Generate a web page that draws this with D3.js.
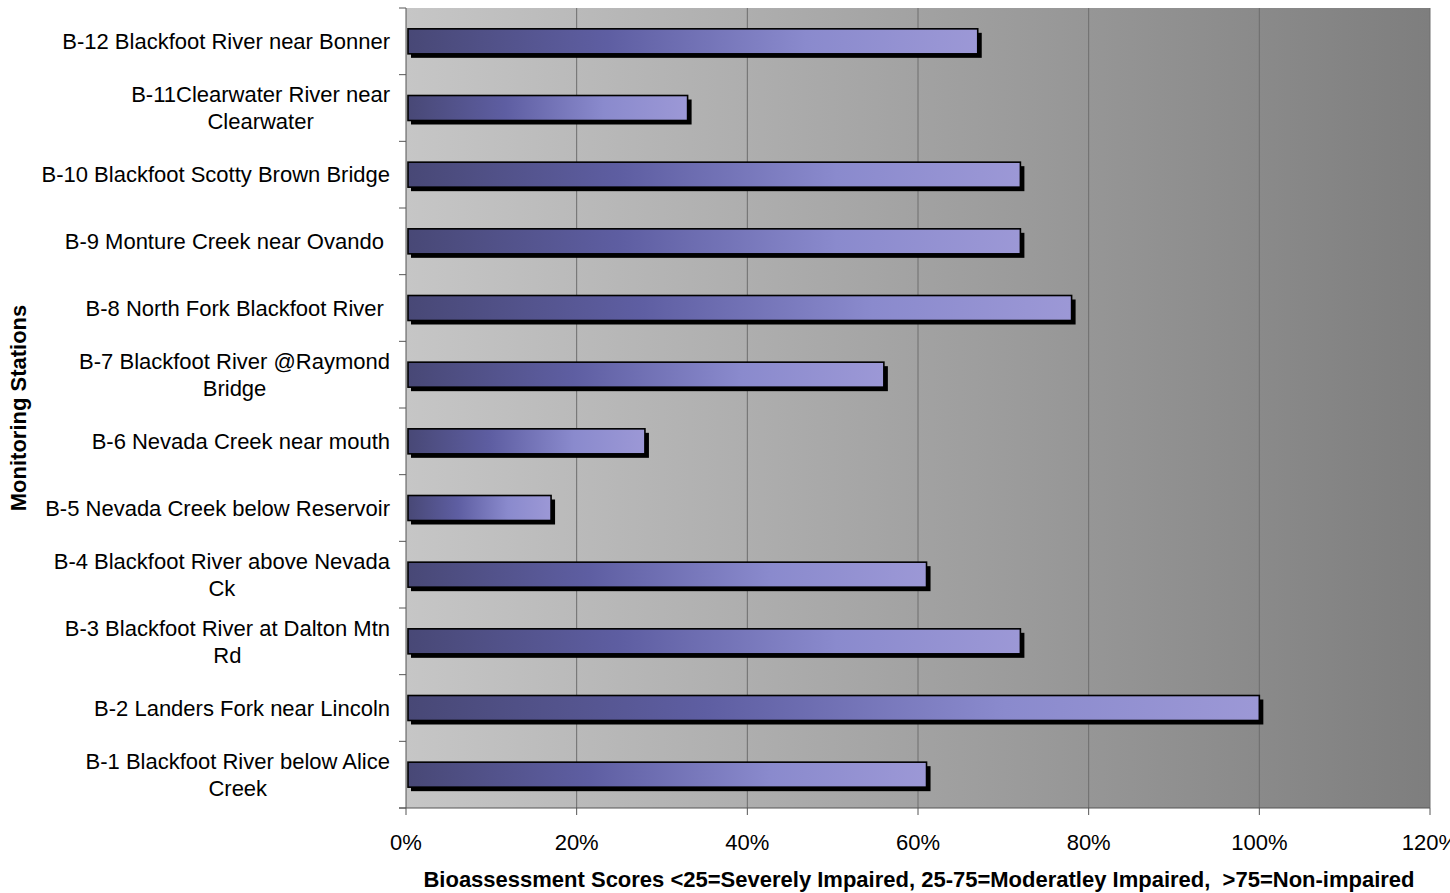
<!DOCTYPE html>
<html>
<head>
<meta charset="utf-8">
<script src="https://cdn.jsdelivr.net/npm/d3@7"></script>
<style>
  html, body { margin: 0; padding: 0; background: #fff; }
  svg { display: block; }
  text { font-family: "Liberation Sans", Arial, sans-serif; fill: #000; }
</style>
</head>
<body>
<svg id="chart" width="1450" height="893"></svg>
<script>
// Monitoring stations, top to bottom; each entry lists its wrapped label lines
const stations = ["B-12", "B-11", "B-10", "B-9", "B-8", "B-7", "B-6", "B-5", "B-4", "B-3", "B-2", "B-1"];
const stationLabels = [
  ["B-12 Blackfoot River near Bonner"],
  ["B-11Clearwater River near", "Clearwater"],
  ["B-10 Blackfoot Scotty Brown Bridge"],
  ["B-9 Monture Creek near Ovando "],
  ["B-8 North Fork Blackfoot River "],
  ["B-7 Blackfoot River @Raymond", "Bridge"],
  ["B-6 Nevada Creek near mouth"],
  ["B-5 Nevada Creek below Reservoir"],
  ["B-4 Blackfoot River above Nevada", "Ck"],
  ["B-3 Blackfoot River at Dalton Mtn", "Rd"],
  ["B-2 Landers Fork near Lincoln"],
  ["B-1 Blackfoot River below Alice", "Creek"]
];
// Bioassessment scores (fraction of maximum)
const scores = [0.67, 0.33, 0.72, 0.72, 0.78, 0.56, 0.28, 0.17, 0.61, 0.72, 1.00, 0.61];
const xTicks = [0, 0.2, 0.4, 0.6, 0.8, 1.0, 1.2];
const xTitle = "Bioassessment Scores <25=Severely Impaired, 25-75=Moderatley Impaired,  >75=Non-impaired";
const yTitle = "Monitoring Stations";

const svg = d3.select("#chart");
const plot = { left: 406, right: 1430, top: 8, bottom: 808 };

const x = d3.scaleLinear().domain([0, 1.2]).range([plot.left, plot.right]);
const y = d3.scaleBand().domain(stations).range([plot.top, plot.bottom]).paddingInner(0).paddingOuter(0);

const defs = svg.append("defs");
const bg = defs.append("linearGradient").attr("id", "bgGrad")
  .attr("x1", "0").attr("x2", "1").attr("y1", "0").attr("y2", "0");
bg.append("stop").attr("offset", "0").attr("stop-color", "#c6c6c6");
bg.append("stop").attr("offset", "1").attr("stop-color", "#7e7e7e");

const barGrad = defs.append("linearGradient").attr("id", "barGrad")
  .attr("x1", "0").attr("x2", "1").attr("y1", "0").attr("y2", "0");
barGrad.append("stop").attr("offset", "0").attr("stop-color", "#484876");
barGrad.append("stop").attr("offset", "0.35").attr("stop-color", "#5e5ea2");
barGrad.append("stop").attr("offset", "0.7").attr("stop-color", "#8a8acd");
barGrad.append("stop").attr("offset", "1").attr("stop-color", "#9c98d6");

// Plot background
svg.append("rect")
  .attr("x", plot.left).attr("y", plot.top)
  .attr("width", plot.right - plot.left).attr("height", plot.bottom - plot.top)
  .attr("fill", "url(#bgGrad)");

// Vertical gridlines
svg.append("g").selectAll("line")
  .data(xTicks.filter(d => d > 0))
  .join("line")
  .attr("x1", d => x(d)).attr("x2", d => x(d))
  .attr("y1", plot.top).attr("y2", plot.bottom)
  .attr("stroke", "#6e6e6e").attr("stroke-width", 1);

// Bars with drop shadows
const barH = 25;
const bars = svg.append("g");
bars.selectAll("rect.shadow")
  .data(scores)
  .join("rect").attr("class", "shadow")
  .attr("x", x(0) + 5)
  .attr("y", (d, i) => y(stations[i]) + (y.bandwidth() - barH) / 2 + 4)
  .attr("width", d => x(d) - x(0) - 1)
  .attr("height", barH)
  .attr("fill", "#000");
bars.selectAll("rect.bar")
  .data(scores)
  .join("rect").attr("class", "bar")
  .attr("x", x(0) + 2)
  .attr("y", (d, i) => y(stations[i]) + (y.bandwidth() - barH) / 2)
  .attr("width", d => x(d) - x(0) - 2)
  .attr("height", barH)
  .attr("fill", "url(#barGrad)")
  .attr("stroke", "#000").attr("stroke-width", 1.6);

// Y axis line and tick marks at band boundaries
const yAxis = svg.append("g");
yAxis.append("line")
  .attr("x1", plot.left).attr("x2", plot.left)
  .attr("y1", plot.top).attr("y2", plot.bottom)
  .attr("stroke", "#555").attr("stroke-width", 1);
yAxis.selectAll("line.tick")
  .data(stations.map(s => y(s)).concat([plot.bottom]))
  .join("line").attr("class", "tick")
  .attr("x1", plot.left - 7).attr("x2", plot.left)
  .attr("y1", d => d).attr("y2", d => d)
  .attr("stroke", "#555").attr("stroke-width", 1);

// Category labels: block right-aligned, lines centered inside the block
const labelRight = 390, fs = 22, lineH = 27;
const labelG = svg.append("g").attr("font-size", fs);
stationLabels.forEach((lines, i) => {
  const cy = y(stations[i]) + y.bandwidth() / 2;
  const g = labelG.append("g");
  const texts = lines.map(l => g.append("text").style("white-space", "pre").text(l));
  const widths = texts.map(t => t.node().getComputedTextLength());
  const maxW = d3.max(widths);
  const cx = labelRight - maxW / 2;
  const y0 = cy - (lines.length - 1) * lineH / 2;
  texts.forEach((t, j) => {
    t.attr("x", cx).attr("text-anchor", "middle")
      .attr("y", y0 + j * lineH).attr("dy", "0.35em");
  });
});

// X axis line, ticks and labels
const xAxis = svg.append("g");
xAxis.append("line")
  .attr("x1", plot.left - 7).attr("x2", plot.right)
  .attr("y1", plot.bottom).attr("y2", plot.bottom)
  .attr("stroke", "#555").attr("stroke-width", 1);
xAxis.selectAll("line.tick")
  .data(xTicks)
  .join("line").attr("class", "tick")
  .attr("x1", d => x(d)).attr("x2", d => x(d))
  .attr("y1", plot.bottom).attr("y2", plot.bottom + 7)
  .attr("stroke", "#555").attr("stroke-width", 1);
const fmt = d3.format(".0%");
xAxis.selectAll("text")
  .data(xTicks)
  .join("text")
  .attr("x", d => x(d)).attr("y", 850)
  .attr("text-anchor", "middle")
  .attr("font-size", 22)
  .text(d => fmt(d));

// Axis titles
svg.append("text")
  .attr("x", 919).attr("y", 887)
  .attr("text-anchor", "middle")
  .attr("font-size", 22).attr("font-weight", "bold")
  .style("white-space", "pre")
  .text(xTitle);
svg.append("text")
  .attr("transform", `translate(26,${(plot.top + plot.bottom) / 2}) rotate(-90)`)
  .attr("text-anchor", "middle")
  .attr("font-size", 22).attr("font-weight", "bold")
  .text(yTitle);
</script>
</body>
</html>
